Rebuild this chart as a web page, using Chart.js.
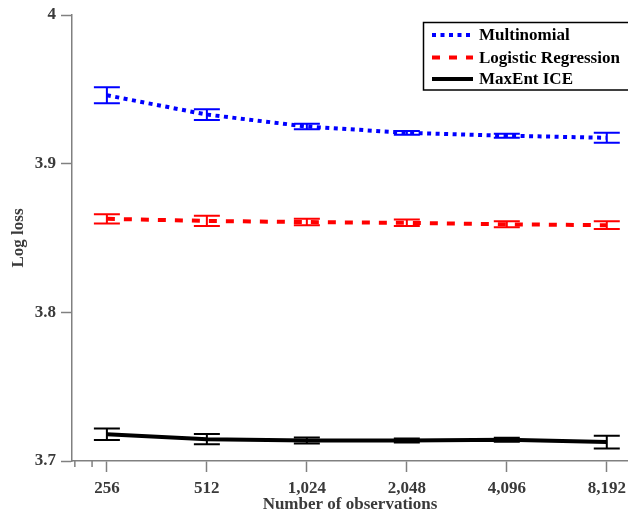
<!DOCTYPE html>
<html><head><meta charset="utf-8">
<script src="https://cdn.jsdelivr.net/npm/chart.js@4/dist/chart.umd.min.js"></script>
<style>html,body{margin:0;padding:0;background:#fff}#wrap{width:628px;height:512px;position:relative}</style>
</head><body><div id="wrap"><canvas id="c" width="628" height="512"></canvas></div>
<script>
const observations = [256, 512, 1024, 2048, 4096, 8192];
const tickLabels = ['256', '512', '1,024', '2,048', '4,096', '8,192'];
const minorTicks = [205, 231];
const yTicks = [3.7, 3.8, 3.9, 4.0];
const seriesNames = ['Multinomial', 'Logistic Regression', 'MaxEnt ICE'];
const multinomial = [3.946, 3.933, 3.925, 3.9207, 3.9188, 3.9174];
const multinomialErr = [0.0054, 0.0036, 0.0018, 0.0012, 0.0013, 0.0034];
const logistic = [3.8629, 3.8615, 3.8607, 3.8602, 3.8592, 3.8586];
const logisticErr = [0.0031, 0.0035, 0.0022, 0.0022, 0.0020, 0.0026];
const maxent = [3.7180, 3.7147, 3.7138, 3.7138, 3.7143, 3.7127];
const maxentErr = [0.0039, 0.0035, 0.0020, 0.0013, 0.0013, 0.0043];

const FONT = 'Liberation Serif';
const AXIS = '#808080';
const LABEL = '#3a3a3a';

function pts(vals){ return observations.map((o,i)=>({x:o, y:vals[i]})); }

const errs = [multinomialErr, logisticErr, maxentErr];

const errorBars = {
  id:'errorBars',
  afterDatasetsDraw(chart){
    const ctx = chart.ctx, xs = chart.scales.x, ys = chart.scales.y;
    chart.data.datasets.forEach((ds, di)=>{
      ctx.save();
      ctx.strokeStyle = ds.borderColor; ctx.lineWidth = 2; ctx.setLineDash([]);
      ds.data.forEach((p, i)=>{
        const x = xs.getPixelForValue(p.x);
        const yt = ys.getPixelForValue(p.y + errs[di][i]);
        const yb = ys.getPixelForValue(p.y - errs[di][i]);
        ctx.beginPath();
        ctx.moveTo(x, yt); ctx.lineTo(x, yb);
        ctx.moveTo(x-13, yt); ctx.lineTo(x+13, yt);
        ctx.moveTo(x-13, yb); ctx.lineTo(x+13, yb);
        ctx.stroke();
      });
      ctx.restore();
    });
  }
};

const extras = {
  id:'extras',
  afterDraw(chart){
    const ctx = chart.ctx, xs = chart.scales.x;
    ctx.save();
    ctx.strokeStyle = AXIS; ctx.lineWidth = 1.5;
    minorTicks.forEach(v=>{
      const x = xs.getPixelForValue(v);
      ctx.beginPath(); ctx.moveTo(x, xs.top); ctx.lineTo(x, xs.top+6); ctx.stroke();
    });
    // legend
    const bx = 423.5, by = 22.5, bw = 210, bh = 67.5;
    ctx.strokeStyle = '#000'; ctx.lineWidth = 1.5;
    ctx.strokeRect(bx, by, bw, bh);
    const rows = [35, 57.5, 79];
    chart.data.datasets.forEach((ds, i)=>{
      ctx.beginPath();
      ctx.strokeStyle = ds.borderColor; ctx.lineWidth = 4;
      ctx.setLineDash(ds.borderDash || []);
      ctx.moveTo(432, rows[i]); ctx.lineTo(473, rows[i]); ctx.stroke();
      ctx.setLineDash([]);
      ctx.fillStyle = '#000';
      ctx.font = 'bold 17px "' + FONT + '"';
      ctx.textBaseline = 'middle'; ctx.textAlign = 'left';
      ctx.fillText(seriesNames[i], 479, rows[i] + 1);
    });
    ctx.restore();
  }
};

new Chart(document.getElementById('c'), {
  type:'line',
  data:{
    datasets:[
      {label:seriesNames[0], data:pts(multinomial), borderColor:'#0000ff', borderWidth:4, borderDash:[4,4.5], pointRadius:0, fill:false, tension:0},
      {label:seriesNames[1], data:pts(logistic), borderColor:'#ff0000', borderWidth:4, borderDash:[8,9], pointRadius:0, fill:false, tension:0},
      {label:seriesNames[2], data:pts(maxent), borderColor:'#000000', borderWidth:4, pointRadius:0, fill:false, tension:0}
    ]
  },
  options:{
    responsive:false, animation:false, devicePixelRatio:1,
    layout:{padding:{top:15,right:0,bottom:0,left:0}, autoPadding:false},
    plugins:{legend:{display:false}, tooltip:{enabled:false}},
    scales:{
      x:{
        type:'logarithmic', min:201, max:9490,
        afterBuildTicks(s){ s.ticks = observations.map(v=>({value:v})); },
        afterFit(s){ s.height = 51; s.paddingLeft = 0; s.paddingRight = 0; },
        ticks:{autoSkip:false, maxRotation:0, minRotation:0, color:LABEL, padding:6,
          font:{family:FONT, weight:'bold', size:17},
          callback:(v)=>{ const k = observations.indexOf(v); return k>=0 ? tickLabels[k] : ''; }},
        grid:{drawOnChartArea:false, drawTicks:true, tickLength:11, tickColor:AXIS, tickWidth:1.5},
        border:{color:AXIS, width:1.5},
        title:{display:true, text:'Number of observations', color:LABEL, font:{family:FONT, weight:'bold', size:17, lineHeight:1}, padding:{top:0,bottom:-1}}
      },
      y:{
        type:'linear', min:3.7, max:4.0,
        afterBuildTicks(s){ s.ticks = yTicks.map(v=>({value:v})); },
        afterFit(s){ s.width = 72; s.paddingTop = 0; s.paddingBottom = 0; },
        ticks:{color:LABEL, padding:5, font:{family:FONT, weight:'bold', size:17},
          callback:(v)=>String(+Number(v).toFixed(1))},
        grid:{drawOnChartArea:false, drawTicks:true, tickLength:11, tickColor:AXIS, tickWidth:1.5},
        border:{color:AXIS, width:1.5},
        title:{display:true, text:'Log loss', color:LABEL, font:{family:FONT, weight:'bold', size:17, lineHeight:1}, padding:{top:10,bottom:0}}
      }
    }
  },
  plugins:[errorBars, extras]
});
</script></body></html>
